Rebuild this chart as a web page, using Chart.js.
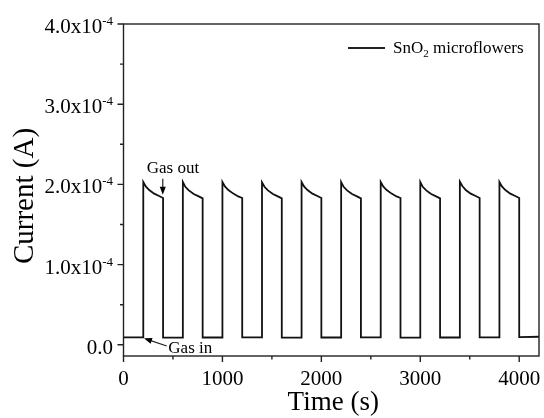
<!DOCTYPE html>
<html>
<head>
<meta charset="utf-8">
<script src="https://cdn.jsdelivr.net/npm/chart.js@4.4.1/dist/chart.umd.min.js"></script>
<style>
    html, body { margin: 0; padding: 0; background: #fff; }
    #wrap { width: 544px; height: 418px; }
</style>
</head>
<body>
<div id="wrap"><canvas id="currentChart"></canvas></div>
<script>
// --- data ---
const timeS = [
    0,
    200, 200, 225, 260, 310, 360, 400, 400,
    600, 600, 625, 660, 710, 760, 800, 800,
    1000, 1000, 1025, 1060, 1110, 1160, 1200, 1200,
    1400, 1400, 1425, 1460, 1510, 1560, 1600, 1600,
    1800, 1800, 1825, 1860, 1910, 1960, 2000, 2000,
    2200, 2200, 2225, 2260, 2310, 2360, 2400, 2400,
    2600, 2600, 2625, 2660, 2710, 2760, 2800, 2800,
    3000, 3000, 3025, 3060, 3110, 3160, 3200, 3200,
    3400, 3400, 3425, 3460, 3510, 3560, 3600, 3600,
    3800, 3800, 3825, 3860, 3910, 3960, 4000, 4000,
    4200
];
const currentA = [
    9.2e-6,
    9.2e-6, 2.03e-4, 1.975e-4, 1.93e-4, 1.885e-4, 1.855e-4, 1.83e-4, 9.0e-6,
    9.0e-6, 2.03e-4, 1.97e-4, 1.925e-4, 1.88e-4, 1.85e-4, 1.825e-4, 9.1e-6,
    9.1e-6, 2.03e-4, 1.975e-4, 1.93e-4, 1.885e-4, 1.85e-4, 1.83e-4, 9.2e-6,
    9.2e-6, 2.025e-4, 1.97e-4, 1.925e-4, 1.88e-4, 1.85e-4, 1.825e-4, 9.0e-6,
    9.0e-6, 2.03e-4, 1.975e-4, 1.93e-4, 1.885e-4, 1.855e-4, 1.83e-4, 9.1e-6,
    9.1e-6, 2.03e-4, 1.97e-4, 1.925e-4, 1.88e-4, 1.85e-4, 1.825e-4, 9.2e-6,
    9.2e-6, 2.03e-4, 1.975e-4, 1.93e-4, 1.885e-4, 1.85e-4, 1.83e-4, 9.0e-6,
    9.0e-6, 2.03e-4, 1.97e-4, 1.925e-4, 1.88e-4, 1.85e-4, 1.825e-4, 9.1e-6,
    9.1e-6, 2.035e-4, 1.98e-4, 1.93e-4, 1.885e-4, 1.855e-4, 1.83e-4, 9.2e-6,
    9.2e-6, 2.03e-4, 1.975e-4, 1.93e-4, 1.885e-4, 1.855e-4, 1.83e-4, 9.6e-6,
    1.0e-5
];

const xTicks = [0, 1000, 2000, 3000, 4000];
const xMinorTicks = [500, 1500, 2500, 3500];
const yTicks = [0, 1e-4, 2e-4, 3e-4, 4e-4];
const yTickMantissa = ['0.0', '1.0x10', '2.0x10', '3.0x10', '4.0x10'];
const yTickExponent = ['', '-4', '-4', '-4', '-4'];
const yMinorTicks = [0.5e-4, 1.5e-4, 2.5e-4, 3.5e-4];

const seriesName = ['SnO', '2', ' microflowers'];
const xTitle = 'Time (s)';
const yTitle = 'Current (A)';

// annotations: [text x, text y, arrow tail x, tail y, arrow tip x, tip y] in data units
const gasOut = { text: 'Gas out', tx: 235, ty: 2.147e-4, ax1: 397, ay1: 2.07e-4, ax2: 397, ay2: 1.87e-4 };
const gasIn = { text: 'Gas in', tx: 453, ty: -1.0e-5, ax1: 437, ay1: -1.6e-6, ax2: 207, ay2: 8.0e-6 };

const SERIF = "'Liberation Serif', 'Times New Roman', serif";

function arrow(ctx, x1, y1, x2, y2) {
    const ang = Math.atan2(y2 - y1, x2 - x1);
    const len = 8, half = 3;
    ctx.beginPath();
    ctx.moveTo(x1, y1);
    ctx.lineTo(x2 - Math.cos(ang) * len * 0.6, y2 - Math.sin(ang) * len * 0.6);
    ctx.stroke();
    ctx.beginPath();
    ctx.moveTo(x2, y2);
    ctx.lineTo(x2 - Math.cos(ang) * len - Math.sin(ang) * half, y2 - Math.sin(ang) * len + Math.cos(ang) * half);
    ctx.lineTo(x2 - Math.cos(ang) * len + Math.sin(ang) * half, y2 - Math.sin(ang) * len - Math.cos(ang) * half);
    ctx.closePath();
    ctx.fill();
}

// Origin style frame, ticks, labels, legend and arrows
const originDecor = {
    id: 'originDecor',
    afterDraw(chart) {
        const { ctx, chartArea: a, scales: { x, y } } = chart;
        ctx.save();
        ctx.strokeStyle = '#222';
        ctx.fillStyle = '#000';
        ctx.lineWidth = 1.4;
        ctx.strokeRect(a.left, a.top, a.right - a.left, a.bottom - a.top);

        // x ticks
        ctx.beginPath();
        xTicks.forEach(v => { const px = x.getPixelForValue(v); ctx.moveTo(px, a.bottom); ctx.lineTo(px, a.bottom + 6); });
        xMinorTicks.forEach(v => { const px = x.getPixelForValue(v); ctx.moveTo(px, a.bottom); ctx.lineTo(px, a.bottom + 3.5); });
        // y ticks
        yTicks.forEach(v => { const py = y.getPixelForValue(v); ctx.moveTo(a.left, py); ctx.lineTo(a.left - 6, py); });
        yMinorTicks.forEach(v => { const py = y.getPixelForValue(v); ctx.moveTo(a.left, py); ctx.lineTo(a.left - 3.5, py); });
        ctx.stroke();

        // x tick labels
        ctx.font = '21px ' + SERIF;
        ctx.textAlign = 'center';
        ctx.textBaseline = 'alphabetic';
        xTicks.forEach(v => ctx.fillText(String(v), x.getPixelForValue(v), a.bottom + 29));

        // y tick labels with superscript exponent
        const right = a.left - 10.5;
        yTicks.forEach((v, i) => {
            const py = y.getPixelForValue(v);
            ctx.font = '13px ' + SERIF;
            const ew = ctx.measureText(yTickExponent[i]).width;
            ctx.textAlign = 'left';
            ctx.fillText(yTickExponent[i], right - ew, py + 1);
            ctx.font = '21px ' + SERIF;
            ctx.textAlign = 'right';
            ctx.fillText(yTickMantissa[i], right - ew, py + 9);
        });

        // axis titles
        ctx.font = '27px ' + SERIF;
        ctx.textAlign = 'center';
        ctx.fillText(xTitle, (a.left + a.right) / 2 + 2, 410);
        ctx.save();
        ctx.translate(33, (a.top + a.bottom) / 2 + 6);
        ctx.rotate(-Math.PI / 2);
        ctx.font = '29px ' + SERIF;
        ctx.fillText(yTitle, 0, 0);
        ctx.restore();

        // legend
        ctx.lineWidth = 2;
        ctx.beginPath();
        ctx.moveTo(348, a.top + 24);
        ctx.lineTo(385, a.top + 24);
        ctx.stroke();
        let lx = 393;
        const ly = a.top + 29;
        ctx.textAlign = 'left';
        ctx.font = '17px ' + SERIF;
        ctx.fillText(seriesName[0], lx, ly);
        lx += ctx.measureText(seriesName[0]).width;
        ctx.font = '11px ' + SERIF;
        ctx.fillText(seriesName[1], lx, ly + 4);
        lx += ctx.measureText(seriesName[1]).width;
        ctx.font = '17px ' + SERIF;
        ctx.fillText(seriesName[2], lx, ly);

        // annotations
        ctx.lineWidth = 1.2;
        ctx.font = '17px ' + SERIF;
        [gasOut, gasIn].forEach(n => {
            ctx.fillText(n.text, x.getPixelForValue(n.tx), y.getPixelForValue(n.ty));
            arrow(ctx, x.getPixelForValue(n.ax1), y.getPixelForValue(n.ay1), x.getPixelForValue(n.ax2), y.getPixelForValue(n.ay2));
        });
        ctx.restore();
    }
};

const points = timeS.map((t, i) => ({ x: t, y: currentA[i] }));

new Chart(document.getElementById('currentChart').getContext('2d'), {
    type: 'line',
    data: {
        datasets: [{
            label: seriesName.join(''),
            data: points,
            borderColor: '#111',
            borderWidth: 1.8,
            pointRadius: 0,
            tension: 0,
            fill: false
        }]
    },
    options: {
        responsive: true,
        maintainAspectRatio: false,
        animation: false,
        layout: { padding: { left: 123.5, top: 24, right: 5, bottom: 62 } },
        plugins: { legend: { display: false }, tooltip: { enabled: false } },
        scales: {
            x: { type: 'linear', min: 0, max: 4200, display: false },
            y: { type: 'linear', min: -1.4e-5, max: 4.0e-4, display: false }
        }
    },
    plugins: [originDecor]
});
</script>
</body>
</html>
